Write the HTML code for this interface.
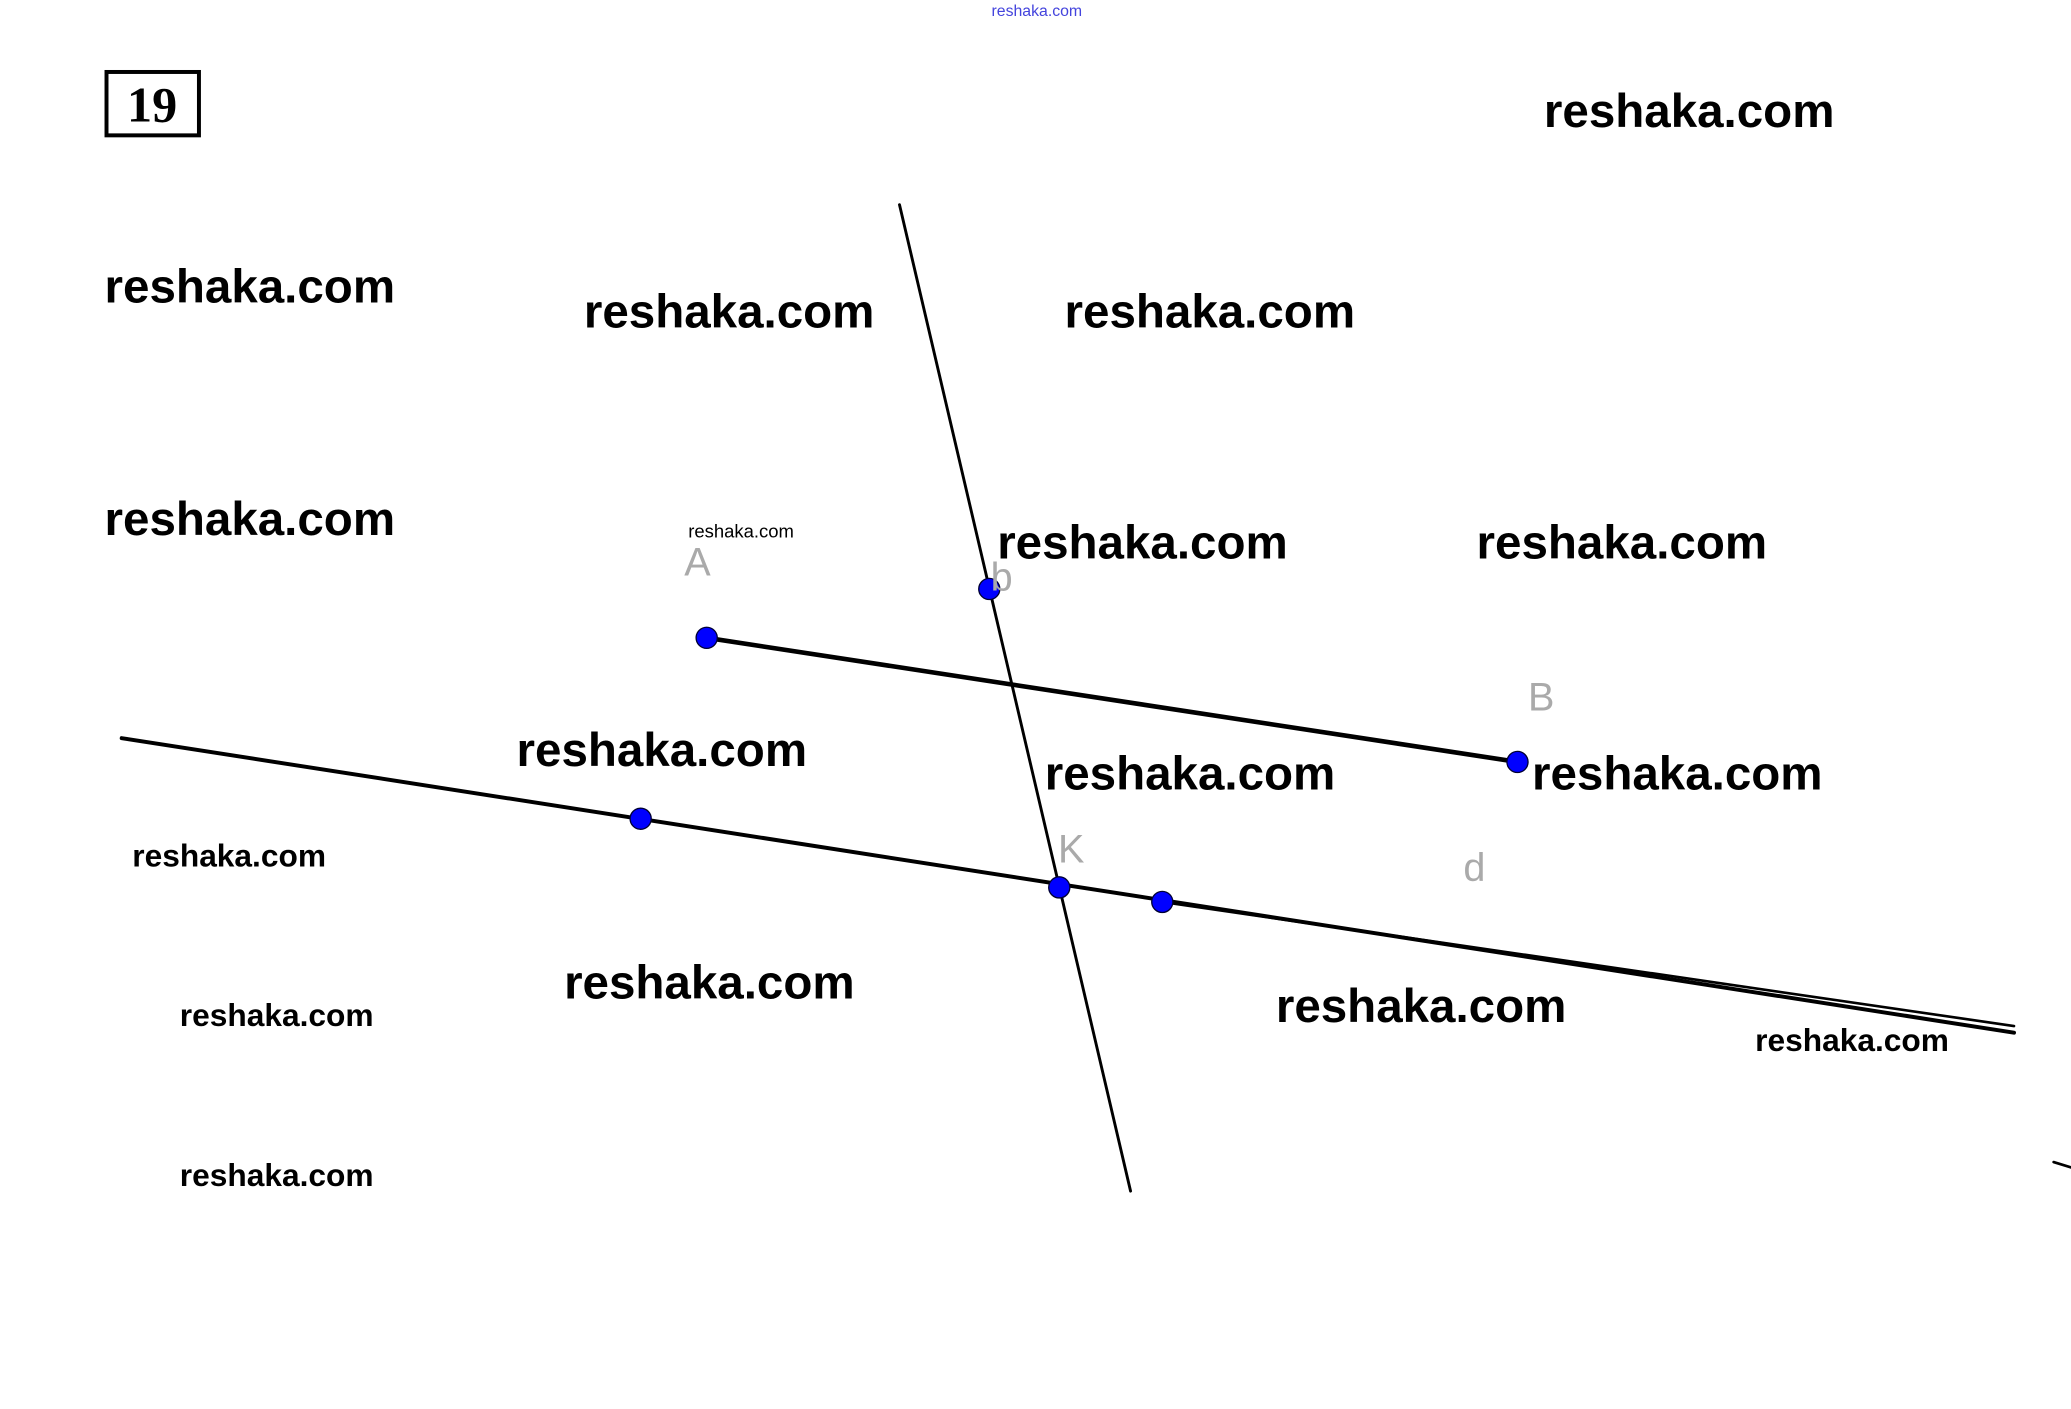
<!DOCTYPE html>
<html><head><meta charset="utf-8"><style>
html,body{margin:0;padding:0;background:#fff;}
svg{display:block;}
.w{font-family:"Liberation Sans",sans-serif;font-weight:bold;font-size:36px;fill:#000;}
.s{font-family:"Liberation Sans",sans-serif;font-weight:bold;font-size:24px;fill:#000;}
.l{font-family:"Liberation Sans",sans-serif;font-size:30px;fill:#aaa;}
</style></head><body>
<svg width="2071" height="1409" viewBox="0 0 1568 1067" xmlns="http://www.w3.org/2000/svg">
<rect width="1568" height="1067" fill="#fff"/>
<text x="785" y="12" text-anchor="middle" font-family="Liberation Sans,sans-serif" font-size="12" fill="#44d">reshaka.com</text>
<rect x="80.5" y="54.5" width="70" height="48" fill="none" stroke="#000" stroke-width="3"/>
<text x="115" y="92" text-anchor="middle" font-family="Liberation Serif,serif" font-weight="bold" font-size="38">19</text>
<g stroke="#000" fill="none" stroke-linecap="round">
<line x1="681" y1="155" x2="856" y2="902" stroke-width="2.2"/>
<line x1="535" y1="483" x2="1149" y2="577" stroke-width="3.5"/>
<line x1="92" y1="559" x2="1525" y2="782" stroke-width="3"/>
<line x1="880" y1="683" x2="1525" y2="777" stroke-width="2"/>
<line x1="1555" y1="880" x2="1568" y2="884" stroke-width="2"/>
</g>
<g fill="#00f" stroke="#003" stroke-width="1">
<circle cx="535" cy="483" r="8"/><circle cx="749" cy="446" r="8"/><circle cx="1149" cy="577" r="8"/>
<circle cx="485" cy="620" r="8"/><circle cx="802" cy="672" r="8"/><circle cx="880" cy="683" r="8"/>
</g>
<text class="l" x="518" y="436" fill="#555">A</text>
<text class="l" x="750" y="447" font-size="26">b</text>
<text class="l" x="1157" y="538">B</text>
<text class="l" x="801" y="653">K</text>
<text class="l" x="1108" y="667">d</text>
<g class="w">
<text x="1169" y="96">reshaka.com</text>
<text x="79" y="229">reshaka.com</text>
<text x="442" y="248">reshaka.com</text>
<text x="806" y="248">reshaka.com</text>
<text x="79" y="405">reshaka.com</text>
<text x="755" y="423">reshaka.com</text>
<text x="1118" y="423">reshaka.com</text>
<text x="391" y="580">reshaka.com</text>
<text x="791" y="598">reshaka.com</text>
<text x="1160" y="598">reshaka.com</text>
<text x="427" y="756">reshaka.com</text>
<text x="966" y="774">reshaka.com</text>
</g>
<g class="s">
<text x="100" y="656">reshaka.com</text>
<text x="136" y="777">reshaka.com</text>
<text x="136" y="898">reshaka.com</text>
<text x="1329" y="796">reshaka.com</text>
</g>
<text x="521" y="407" font-family="Liberation Sans,sans-serif" font-size="14">reshaka.com</text>
</svg>
</body></html>
